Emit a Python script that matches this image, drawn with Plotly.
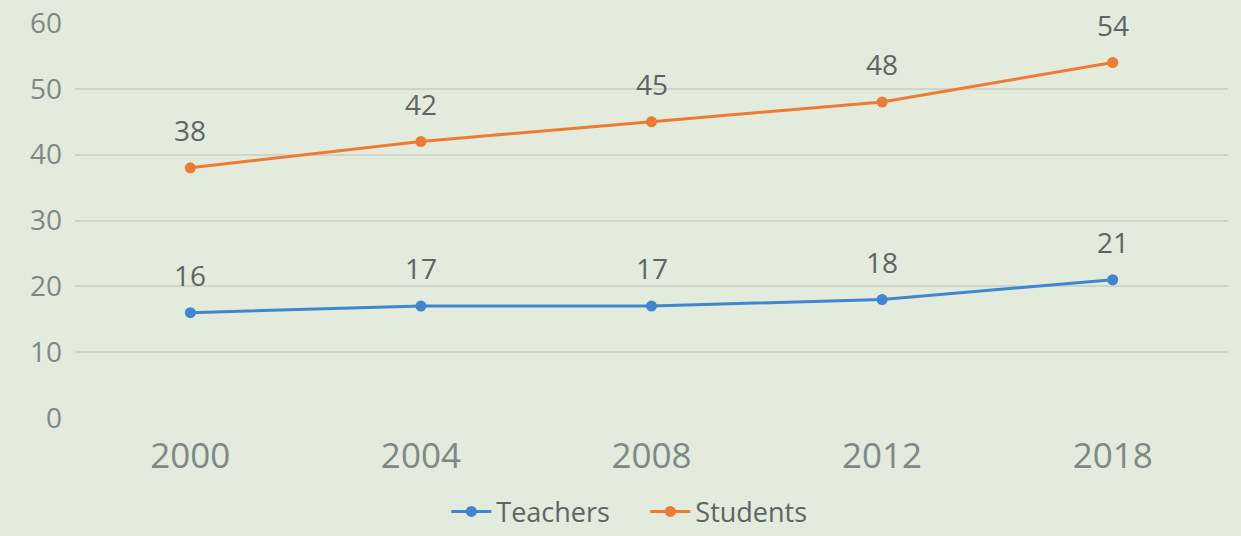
import plotly.graph_objects as go

years = ["2000", "2004", "2008", "2012", "2018"]
teachers = [16, 17, 17, 18, 21]
students = [38, 42, 45, 48, 54]
y_ticks = [0, 10, 20, 30, 40, 50, 60]

BG = "#e2ebdc"
GRID = "#cdd6c8"
BLUE = "#3f86cf"
ORANGE = "#ec7b33"
TXT = "#7d8985"
LBL = "#5f6562"

fig = go.Figure()
fig.add_trace(go.Scatter(x=years, y=teachers, name="Teachers", mode="lines+markers",
                         line=dict(color=BLUE, width=3), marker=dict(size=11, color=BLUE)))
fig.add_trace(go.Scatter(x=years, y=students, name="Students", mode="lines+markers",
                         line=dict(color=ORANGE, width=3), marker=dict(size=11, color=ORANGE)))

for series in (teachers, students):
    for i, yv in enumerate(series):
        fig.add_annotation(x=i, y=yv, text=str(yv), showarrow=False, yshift=38,
                           font=dict(size=28, color=LBL, family="Open Sans"))

fig.update_layout(
    width=1241, height=536,
    paper_bgcolor=BG, plot_bgcolor=BG,
    margin=dict(l=75, r=13, t=23, b=118, autoexpand=False),
    font=dict(family="Open Sans", color=TXT),
    showlegend=True,
    legend=dict(orientation="h", xref="container", x=0.52, xanchor="center",
                yref="container", y=0.045, yanchor="middle", itemwidth=40,
                entrywidth=144, entrywidthmode="pixels",
                font=dict(size=27, color=LBL), bgcolor="rgba(0,0,0,0)"),
)
fig.update_xaxes(type="category", range=[-0.5, 4.5], showgrid=False, showline=False, zeroline=False,
                 automargin=False, tickfont=dict(size=35, color=TXT), ticks="", ticklabelstandoff=14)
fig.update_yaxes(range=[0, 60], tickvals=y_ticks, showgrid=True, gridcolor=GRID, gridwidth=2,
                 zeroline=False, showline=False, automargin=False, tickfont=dict(size=28, color=TXT),
                 ticks="", ticklabelstandoff=12)

fig.write_html("out.html", config={"displayModeBar": False},
               post_script="document.body.style.margin='0';document.body.style.background='%s';" % BG)
